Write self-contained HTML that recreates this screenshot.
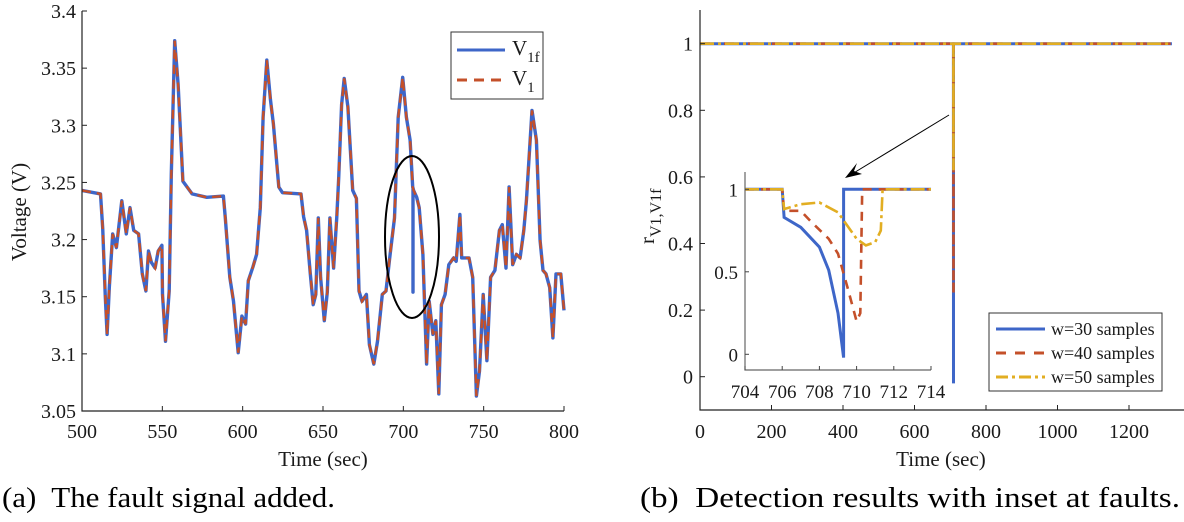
<!DOCTYPE html>
<html><head><meta charset="utf-8"><style>
body{margin:0;background:#fff;}
svg{display:block;font-family:"Liberation Serif",serif;}
</style></head><body>
<svg id="fig" width="1184" height="522" viewBox="0 0 1184 522" xmlns="http://www.w3.org/2000/svg">
<g id="left"></g>
<g id="right"></g>
<text x="2" y="507" font-size="29" textLength="333" lengthAdjust="spacingAndGlyphs" xml:space="preserve">(a)  The fault signal added.</text>
<text x="640" y="507" font-size="29" textLength="540" lengthAdjust="spacingAndGlyphs" xml:space="preserve">(b)  Detection results with inset at faults.</text>
</svg>
<script>
// ---- Left chart data ----
const tV = [500,511.5,512.9,514.5,515.6,517,519.1,521.4,524.8,527.6,529.9,532.2,535.2,537.5,539.8,541.4,543.2,545.5,547.4,549.7,550.1,552,554.3,555.6,557.7,559.8,562.8,568.5,577.7,588,589.2,592,594.3,597.2,599.5,601.8,603.5,606.4,608.7,611,612.7,615,617.3,619.1,622.5,624.8,636.3,637.9,639.8,642.1,643.9,645.5,647.1,648.5,650.8,652.7,654.3,656.6,658.6,659.8,661.6,663.2,665.5,668.5,670.8,672.4,674.3,677,678.9,681.6,683.9,686.9,689.2,691.5,694.5,696.8,699.6,701.9,704.2,705.8,706.4,708.3,709.9,712.2,714.5,716.1,718.4,720.2,722.1,723.7,726,728.3,731.3,732.9,735.2,736.3,740.9,743.2,745.5,747.4,749.7,752,754.3,757,759.8,761.6,763.9,765.8,768.1,770.4,772.7,775,776.6,780.1,782.8,785.1,786.9,788.8,791.1,793.1,795,798,800];
const v1 = [3.243,3.240,3.21,3.15,3.117,3.158,3.205,3.193,3.234,3.205,3.228,3.208,3.205,3.17,3.155,3.19,3.18,3.175,3.19,3.195,3.152,3.111,3.155,3.257,3.374,3.336,3.251,3.24,3.237,3.238,3.219,3.167,3.146,3.101,3.133,3.126,3.164,3.176,3.187,3.228,3.307,3.357,3.322,3.301,3.246,3.241,3.24,3.22,3.208,3.17,3.143,3.152,3.219,3.167,3.129,3.154,3.219,3.175,3.22,3.254,3.318,3.341,3.316,3.243,3.236,3.155,3.146,3.152,3.108,3.091,3.111,3.152,3.155,3.184,3.219,3.307,3.342,3.307,3.287,3.246,3.243,3.237,3.228,3.187,3.091,3.146,3.117,3.129,3.065,3.143,3.152,3.178,3.184,3.181,3.222,3.184,3.184,3.167,3.063,3.085,3.152,3.094,3.167,3.173,3.208,3.213,3.175,3.246,3.178,3.187,3.184,3.208,3.234,3.313,3.287,3.199,3.173,3.17,3.158,3.114,3.17,3.17,3.138];
const faultT = [706.0];
const faultV = [3.154];
const xTicksL = [500,550,600,650,700,750,800];
const yTicksL = [3.05,3.1,3.15,3.2,3.25,3.3,3.35,3.4];
const yTickLabelsL = ["3.05","3.1","3.15","3.2","3.25","3.3","3.35","3.4"];

// ---- Right chart data ----
const tR = [0,708.8,709.0,709.2,1320];
const r30 = [1,1,-0.02,1,1];
const r40 = [1,1,0.25,1,1];
const r50 = [1,1,0.62,1,1];
const xTicksR = [0,200,400,600,800,1000,1200];
const yTicksR = [0,0.2,0.4,0.6,0.8,1];
const yTickLabelsR = ["0","0.2","0.4","0.6","0.8","1"];
// inset
const tI30 = [704,706,706.1,707,708,708.5,709,709.3,709.3,714];
const i30 = [1,1,0.83,0.77,0.65,0.51,0.25,-0.02,1,1];
const tI40 = [704,706,706.1,707,707.5,708.5,709,709.5,710,710.2,710.3,714];
const i40 = [1,1,0.87,0.87,0.81,0.7,0.61,0.41,0.2,0.25,1,1];
const tI50 = [704,706,706.1,707,708,709,709.5,710,710.5,711,711.3,711.4,714];
const i50 = [1,1,0.88,0.91,0.92,0.86,0.78,0.7,0.66,0.68,0.75,1,1];
const xTicksI = [704,706,708,710,712,714];
const yTicksI = [0,0.5,1];
const yTickLabelsI = ["0","0.5","1"];

const NS="http://www.w3.org/2000/svg";
function mk(parent,tag,attrs,text){const e=document.createElementNS(NS,tag);for(const k in attrs)e.setAttribute(k,attrs[k]);if(text!==undefined)e.textContent=text;parent.appendChild(e);return e;}
const BLUE="#3e66c8",RED="#c4502a",YEL="#e2ae22",TXT="#1a1a1a";

// Left axes
const L=document.getElementById('left');
const lx=t=>82+(t-500)/300*482;
const ly=v=>411-(v-3.05)/0.35*400;
function pathOf(ts,vs,fx,fy){return ts.map((t,i)=>(i?'L':'M')+fx(t).toFixed(1)+' '+fy(vs[i]).toFixed(1)).join(' ');}
const tB=[],vB=[];
for(let i=0;i<tV.length;i++){tB.push(tV[i]);vB.push(v1[i]);
 if(tV[i]<=faultT[0]&&tV[i+1]>faultT[0]){const base=v1[i]+(v1[i+1]-v1[i])*(faultT[0]-tV[i])/(tV[i+1]-tV[i]);tB.push(faultT[0]-0.01,faultT[0],faultT[0]+0.01);vB.push(base,faultV[0],base);}}
let p=mk(L,'path',{d:pathOf(tB,vB,lx,ly),fill:'none',stroke:BLUE,'stroke-width':3.4,'stroke-linejoin':'round'});


p=mk(L,'path',{d:pathOf(tV,v1,lx,ly),fill:'none',stroke:RED,'stroke-width':2.4,'stroke-dasharray':'9 6'});


p=mk(L,'path',{d:'M82 11 V411 H564',fill:'none',stroke:'#222','stroke-width':1.2});


xTicksL.forEach(t=>{mk(L,'line',{x1:lx(t),x2:lx(t),y1:411,y2:406,stroke:'#222'});
 const e=mk(L,'text',{x:lx(t),y:438,'font-size':20,'text-anchor':'middle',fill:TXT},String(t));
 
 });
yTicksL.forEach((v,i)=>{mk(L,'line',{x1:82,x2:87,y1:ly(v),y2:ly(v),stroke:'#222'});
 const e=mk(L,'text',{x:76,y:ly(v)+7,'font-size':20,'text-anchor':'end',fill:TXT},yTickLabelsL[i]);
 
 });
let e=mk(L,'text',{x:323,y:466,'font-size':21,'text-anchor':'middle',fill:TXT},'Time (sec)');


e=mk(L,'text',{x:0,y:0,'font-size':21,'text-anchor':'middle',fill:TXT,transform:'translate(26 212) rotate(-90)'},'Voltage (V)');


e=mk(L,'ellipse',{cx:412,cy:237,rx:27,ry:81,fill:'none',stroke:'#000','stroke-width':2});


const lg=mk(L,'g',{});


mk(lg,'rect',{x:451,y:32,width:92,height:67,fill:'#fff',stroke:'#333','stroke-width':1});
mk(lg,'line',{x1:457,x2:505,y1:50,y2:50,stroke:BLUE,'stroke-width':3});
mk(lg,'line',{x1:457,x2:505,y1:80,y2:80,stroke:RED,'stroke-width':3,'stroke-dasharray':'10 7'});
e=mk(lg,'text',{x:512,y:55,'font-size':21,fill:TXT},'V');mk(e,'tspan',{dy:7,'font-size':15},'1f');


e=mk(lg,'text',{x:512,y:85,'font-size':21,fill:TXT},'V');mk(e,'tspan',{dy:7,'font-size':15},'1');



// Right axes
const R=document.getElementById('right');
const rx=t=>700+t/1200*429;
const ry=v=>376.7-v*333;
function drawSeries(g,ts,vs,fx,fy,col,dash,w,name){const q=mk(g,'path',{d:pathOf(ts,vs,fx,fy),fill:'none',stroke:col,'stroke-width':w,'stroke-dasharray':dash});
 
 }
drawSeries(R,tR,r30,rx,ry,BLUE,'none',3,'w30-line');
drawSeries(R,tR,r40,rx,ry,RED,'10 14',2.6,'w40-line');
drawSeries(R,tR,r50,rx,ry,YEL,'14 4 3 4',2.6,'w50-line');
p=mk(R,'path',{d:'M700 10 V410 H1184',fill:'none',stroke:'#222','stroke-width':1.2});


xTicksR.forEach(t=>{mk(R,'line',{x1:rx(t),x2:rx(t),y1:410,y2:405,stroke:'#222'});
 const e=mk(R,'text',{x:rx(t),y:438,'font-size':20,'text-anchor':'middle',fill:TXT},String(t));
 
 });
yTicksR.forEach((v,i)=>{mk(R,'line',{x1:700,x2:705,y1:ry(v),y2:ry(v),stroke:'#222'});
 const e=mk(R,'text',{x:693,y:ry(v)+7,'font-size':20,'text-anchor':'end',fill:TXT},yTickLabelsR[i]);
 
 });
e=mk(R,'text',{x:941,y:466,'font-size':21,'text-anchor':'middle',fill:TXT},'Time (sec)');


e=mk(R,'text',{x:0,y:0,'font-size':21,fill:TXT,transform:'translate(654 244) rotate(-90)'},'r');
mk(e,'tspan',{dy:7,'font-size':16},'V1,V1f');


e=mk(R,'line',{x1:949,y1:115,x2:852,y2:174,stroke:'#000','stroke-width':1});


mk(R,'polygon',{points:'845,178 857,163 854,171 862,174',fill:'#000'});
const I=mk(R,'g',{});


const ix=t=>745+(t-704)/10*186;
const iy=v=>354.3-v*165;
drawSeries(I,tI30,i30,ix,iy,BLUE,'none',3,'inset-w30-line');
drawSeries(I,tI40,i40,ix,iy,RED,'9 7',2.6,'inset-w40-line');
drawSeries(I,tI50,i50,ix,iy,YEL,'14 4 3 4',2.6,'inset-w50-line');
mk(I,'path',{d:'M745 172 V370 H931',fill:'none',stroke:'#666','stroke-width':1.2});
xTicksI.forEach(t=>{mk(I,'line',{x1:ix(t),x2:ix(t),y1:370,y2:366,stroke:'#444'});
 const e=mk(I,'text',{x:ix(t),y:398,'font-size':19,'text-anchor':'middle',fill:TXT},String(t));
 
 });
yTicksI.forEach((v,i)=>{mk(I,'line',{x1:745,x2:749,y1:iy(v),y2:iy(v),stroke:'#444'});
 const e=mk(I,'text',{x:738,y:iy(v)+7,'font-size':19,'text-anchor':'end',fill:TXT},yTickLabelsI[i]);
 
 });
const rg=mk(R,'g',{});


mk(rg,'rect',{x:989,y:313,width:173,height:78,fill:'#fff',stroke:'#333','stroke-width':1});
mk(rg,'line',{x1:996,x2:1045,y1:329,y2:329,stroke:BLUE,'stroke-width':3});
mk(rg,'line',{x1:996,x2:1045,y1:353,y2:353,stroke:RED,'stroke-width':3,'stroke-dasharray':'10 9'});
mk(rg,'line',{x1:996,x2:1045,y1:377,y2:377,stroke:YEL,'stroke-width':3,'stroke-dasharray':'12 4 3 4'});
[['w=30 samples',335],['w=40 samples',359],['w=50 samples',383]].forEach(([s,y])=>{const e=mk(rg,'text',{x:1051,y:y,'font-size':18,fill:TXT},s);
 
 });
</script>
</body></html>
